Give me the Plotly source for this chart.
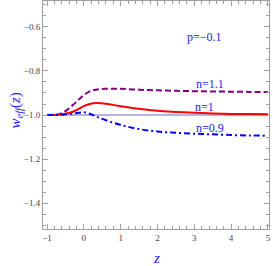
import plotly.graph_objects as go

z = [-1.0, -0.8, -0.65, -0.5, -0.3, -0.15, 0.0, 0.16, 0.35, 0.6, 1.0, 1.5, 2.0, 2.5, 3.0, 3.5, 4.0, 4.5, 5.0]
w_n11 = [-1.0, -0.999, -0.995, -0.982, -0.955, -0.932, -0.91, -0.893, -0.884, -0.881, -0.881, -0.885, -0.888, -0.890, -0.892, -0.893, -0.894, -0.895, -0.896]
w_n1 = [-1.0, -1.0, -0.998, -0.994, -0.985, -0.973, -0.960, -0.950, -0.946, -0.949, -0.960, -0.972, -0.981, -0.986, -0.990, -0.993, -0.995, -0.996, -0.997]
w_n09 = [-1.0, -1.0, -0.999, -0.997, -0.994, -0.990, -0.988, -0.994, -1.008, -1.024, -1.045, -1.064, -1.075, -1.081, -1.085, -1.088, -1.091, -1.093, -1.094]
ref_z = [-1.0, 5.0]
ref_w = [-1.0, -1.0]

x_ticks = [-1, 0, 1, 2, 3, 4, 5]
x_labels = ["\u22121", "0", "1", "2", "3", "4", "5"]
y_ticks = [-1.4, -1.2, -1.0, -0.8, -0.6]
y_labels = ["\u22121.4", "\u22121.2", "\u22121.0", "\u22120.8", "\u22120.6"]

labels = ["p=\u22120.1", "n=1.1", "n=1", "n=0.9"]
label_z = [3.29, 3.42, 3.27, 3.43]
label_w = [-0.645, -0.859, -0.964, -1.059]

fig = go.Figure()
fig.add_trace(go.Scatter(x=ref_z, y=ref_w, mode="lines",
                         line=dict(color="#b4b4e0", width=2)))
fig.add_trace(go.Scatter(x=z, y=w_n11, mode="lines", line_shape="spline",
                         line=dict(color="#800080", width=2, dash="6px,3px")))
fig.add_trace(go.Scatter(x=z, y=w_n1, mode="lines", line_shape="spline",
                         line=dict(color="#ff0000", width=2)))
fig.add_trace(go.Scatter(x=z, y=w_n09, mode="lines", line_shape="spline",
                         line=dict(color="#0000ff", width=2, dash="6px,3px,2px,3px")))

for t, xx, yy in zip(labels, label_z, label_w):
    fig.add_annotation(x=xx, y=yy, text=t, showarrow=False,
                       font=dict(family="Liberation Serif", size=12, color="#2222ee"))

title_font = dict(family="Liberation Serif", size=15, color="#2222ee")
fig.add_annotation(xref="paper", yref="paper", x=0.504, y=-0.127, text="<i>z</i>",
                   xanchor="center", yanchor="middle", showarrow=False, font=title_font)
fig.add_annotation(xref="paper", yref="paper", x=-0.119, y=0.52,
                   text="<i>w</i><sub><i>eff</i></sub>(<i>z</i>)", textangle=-90,
                   xanchor="center", yanchor="middle", showarrow=False, font=title_font)

axis_common = dict(showgrid=False, zeroline=False, showline=True, linecolor="#a0a0a0",
                   linewidth=1, mirror="allticks", ticks="inside", ticklen=5,
                   tickcolor="#a0a0a0", tickwidth=1, automargin=False,
                   tickfont=dict(family="Liberation Serif", size=9, color="#444444"))

fig.update_xaxes(range=[-1.11, 5.03], tickvals=x_ticks, ticktext=x_labels,
                 minor=dict(dtick=0.2, tick0=-1, ticks="inside", ticklen=3, tickcolor="#a0a0a0"),
                 **axis_common)
fig.update_yaxes(range=[-1.518, -0.482], tickvals=y_ticks, ticktext=y_labels,
                 minor=dict(dtick=0.05, tick0=-1.5, ticks="inside", ticklen=3, tickcolor="#a0a0a0"),
                 **axis_common)

fig.update_layout(width=273, height=266, margin=dict(l=43, r=4, t=1, b=37),
                  plot_bgcolor="white", paper_bgcolor="white", showlegend=False)

fig.write_html("out.html", config={"displayModeBar": False},
               post_script="document.body.style.margin='0px';document.body.style.padding='0px';")
